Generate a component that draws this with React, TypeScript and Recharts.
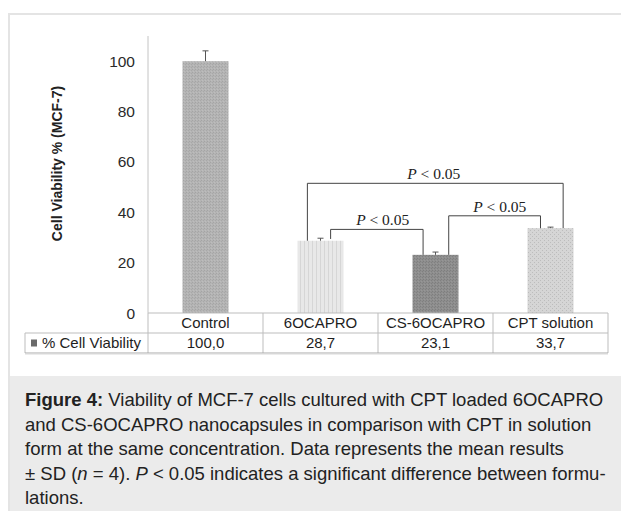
import React from 'react';
import { BarChart, Bar, XAxis, YAxis, ReferenceLine, ReferenceDot } from 'recharts';

// ---------- data ----------
const categories = ['Control', '6OCAPRO', 'CS-6OCAPRO', 'CPT solution'];
const viability = [100.0, 28.7, 23.1, 33.7];
const sdValues = [4.1, 1.0, 1.1, 0.4];
const yTicks = [0, 20, 40, 60, 80, 100];
const seriesName = '% Cell Viability';
const yLabelText = 'Cell Viability % (MCF-7)';

// significance brackets (x in category units, 0 = Control; y in % viability)
const bracketLeftX = [0.886, 1.088, 2.115];
const bracketRightX = [3.11, 1.892, 2.913];
const bracketTopY = [51.5, 33.2, 38.6];
const bracketLeftFoot = [28.7, 29.4, 23.1];
const bracketRightFoot = [33.7, 23.1, 33.7];
const bracketLabelX = [1.985, 1.541, 2.559];
const bracketPLabel = 'P';
const bracketRest = ' < 0.05';

const data = categories.map((name, i) => ({
  name,
  idx: i,
  value: viability[i],
  sd: sdValues[i],
}));

// ---------- layout ----------
const SANS = '"Liberation Sans", Arial, Helvetica, sans-serif';
const SERIF = '"Liberation Serif", "Times New Roman", serif';
const CHART_W = 621;
const CHART_H = 376;
const MARGIN = { top: 36, right: 13, bottom: 23, left: 0 };
const Y_AXIS_W = 148;
const X_AXIS_H = 40;
const PLOT_LEFT = MARGIN.left + Y_AXIS_W;
const PLOT_RIGHT = CHART_W - MARGIN.right;
const PLOT_BOTTOM = CHART_H - MARGIN.bottom - X_AXIS_H;
const BAND = (PLOT_RIGHT - PLOT_LEFT) / categories.length;
const ROW_H = 20;
const TABLE_LEFT = 25;
const LINE = '#bdbdbd';

const patternIds = ['pControl', 'p6O', 'pCS', 'pCPT'];

const Patterns = () => (
  <svg width={0} height={0} style={{ position: 'absolute' }}>
    <defs>
      <pattern id="pControl" width={3} height={3} patternUnits="userSpaceOnUse">
        <rect width={3} height={3} fill="#b4b4b4" />
        <rect x={0} y={0} width={1} height={1} fill="#a4a4a4" />
        <rect x={2} y={1} width={1} height={1} fill="#a8a8a8" />
        <rect x={1} y={2} width={1} height={1} fill="#bdbdbd" />
      </pattern>
      <pattern id="p6O" width={4} height={4} patternUnits="userSpaceOnUse">
        <rect width={4} height={4} fill="#e8e8e8" />
        <rect x={0} y={0} width={1} height={4} fill="#d6d6d6" />
      </pattern>
      <pattern id="pCS" width={3} height={3} patternUnits="userSpaceOnUse">
        <rect width={3} height={3} fill="#8e8e8e" />
        <rect x={0} y={0} width={1} height={1} fill="#7e7e7e" />
        <rect x={2} y={1} width={1} height={1} fill="#808080" />
        <rect x={1} y={2} width={1} height={1} fill="#979797" />
      </pattern>
      <pattern id="pCPT" width={4} height={4} patternUnits="userSpaceOnUse">
        <rect width={4} height={4} fill="#d5d5d5" />
        <rect x={0} y={0} width={1} height={1} fill="#bcbcbc" />
        <rect x={2} y={2} width={1} height={1} fill="#bcbcbc" />
      </pattern>
    </defs>
  </svg>
);

const BarWithError = (props: any) => {
  const { x, y, width, height, index, payload } = props;
  const v = payload.value;
  const pxPerUnit = v ? height / v : 0;
  const topY = y - payload.sd * pxPerUnit;
  const cx = x + width / 2;
  return (
    <g>
      <rect x={x} y={y} width={width} height={height} fill={`url(#${patternIds[index]})`} />
      <line x1={cx} y1={y} x2={cx} y2={topY} stroke="#555" strokeWidth={1} />
      <line x1={cx - 3} y1={topY} x2={cx + 3} y2={topY} stroke="#555" strokeWidth={1} />
    </g>
  );
};

const TableTick = (props: any) => {
  const { x, index } = props;
  const x0 = x - BAND / 2;
  const x1 = x + BAND / 2;
  const y0 = PLOT_BOTTOM;
  const txt = { fontFamily: SANS, fontSize: 15, fill: '#1e1e1e' };
  return (
    <g>
      {index === 0 && (
        <g>
          <line x1={x0} y1={y0} x2={x0} y2={y0 + 2 * ROW_H} stroke={LINE} />
          <line x1={TABLE_LEFT} y1={y0 + ROW_H} x2={x0} y2={y0 + ROW_H} stroke={LINE} />
          <line x1={TABLE_LEFT} y1={y0 + ROW_H} x2={TABLE_LEFT} y2={y0 + 2 * ROW_H} stroke={LINE} />
          <line x1={TABLE_LEFT} y1={y0 + 2 * ROW_H} x2={x0} y2={y0 + 2 * ROW_H} stroke="#a8a8a8" />
          <line x1={TABLE_LEFT} y1={y0 + 2 * ROW_H + 1} x2={x0} y2={y0 + 2 * ROW_H + 1} stroke="#dadada" />
          <rect x={31} y={y0 + ROW_H + 6.5} width={6} height={7} fill="#6a6a6a" />
          <text x={42} y={y0 + ROW_H * 1.5} dy="0.35em" {...txt}>{seriesName}</text>
        </g>
      )}
      <line x1={x1} y1={y0} x2={x1} y2={y0 + 2 * ROW_H} stroke={LINE} />
      <line x1={x0} y1={y0 + ROW_H} x2={x1} y2={y0 + ROW_H} stroke={LINE} />
      <line x1={x0} y1={y0 + 2 * ROW_H} x2={x1} y2={y0 + 2 * ROW_H} stroke="#a8a8a8" />
      <line x1={x0} y1={y0 + 2 * ROW_H + 1} x2={x1} y2={y0 + 2 * ROW_H + 1} stroke="#dadada" />
      <text x={x} y={y0 + ROW_H * 0.5} dy="0.35em" textAnchor="middle" {...txt}>{categories[index]}</text>
      <text x={x} y={y0 + ROW_H * 1.5} dy="0.35em" textAnchor="middle" {...txt}>
        {viability[index].toFixed(1).replace('.', ',')}
      </text>
    </g>
  );
};

const YLabel = (props: any) => {
  const vb = props.viewBox || { y: MARGIN.top, height: PLOT_BOTTOM - MARGIN.top };
  const cx = 57;
  const cy = vb.y + vb.height / 2 - 11;
  return (
    <text
      x={cx}
      y={cy}
      transform={`rotate(-90, ${cx}, ${cy})`}
      textAnchor="middle"
      dominantBaseline="central"
      fontFamily={SANS}
      fontSize={14}
      fontWeight="bold"
      fill="#222"
    >
      {yLabelText}
    </text>
  );
};

const SigLabel = (props: any) => {
  const vb = props.viewBox;
  const cx = vb.x + vb.width / 2;
  const cy = vb.y + vb.height / 2;
  return (
    <text x={cx} y={cy - 4} textAnchor="middle" fontFamily={SERIF} fontSize={15.5} fill="#222">
      <tspan fontStyle="italic">{bracketPLabel}</tspan>
      {bracketRest}
    </text>
  );
};

const brackets = bracketLeftX.map((lx, i) => ({
  lx,
  rx: bracketRightX[i],
  top: bracketTopY[i],
  lf: bracketLeftFoot[i],
  rf: bracketRightFoot[i],
  labelX: bracketLabelX[i],
}));

export default function App() {
  return (
    <div style={{ position: 'absolute', left: 0, top: 0, width: 621, height: 511, background: '#fff', overflow: 'hidden' }}>
      <Patterns />
      <div
        style={{
          position: 'absolute',
          left: 8,
          top: 13,
          width: 640,
          height: 520,
          borderTop: '2px solid #e4e4e4',
          borderLeft: '2px solid #e4e4e4',
          boxSizing: 'border-box',
        }}
      />
      <div style={{ position: 'absolute', left: 0, top: 0 }}>
        <BarChart width={CHART_W} height={CHART_H} data={data} margin={MARGIN} barCategoryGap="30%">
          <XAxis
            xAxisId="cat"
            dataKey="name"
            type="category"
            height={X_AXIS_H}
            tickLine={false}
            tickSize={0}
            tickMargin={0}
            axisLine={{ stroke: LINE }}
            interval={0}
            tick={<TableTick />}
          />
          <XAxis xAxisId="num" dataKey="idx" type="number" domain={[-0.5, 3.5]} allowDataOverflow hide />
          <YAxis
            width={Y_AXIS_W}
            domain={[0, 110]}
            ticks={yTicks}
            interval={0}
            tickLine={false}
            tickSize={0}
            tickMargin={13}
            axisLine={{ stroke: '#c4c4c4' }}
            tick={{ fontSize: 15.5, fill: '#2a2a2a', fontFamily: SANS }}
            label={YLabel}
          />
          <Bar xAxisId="cat" dataKey="value" isAnimationActive={false} shape={<BarWithError />} />
          {brackets.map((b, i) => (
            <ReferenceLine
              key={`l${i}`}
              xAxisId="num"
              segment={[{ x: b.lx, y: b.lf }, { x: b.lx, y: b.top }]}
              stroke="#444"
              strokeWidth={1}
            />
          ))}
          {brackets.map((b, i) => (
            <ReferenceLine
              key={`t${i}`}
              xAxisId="num"
              segment={[{ x: b.lx, y: b.top }, { x: b.rx, y: b.top }]}
              stroke="#444"
              strokeWidth={1}
            />
          ))}
          {brackets.map((b, i) => (
            <ReferenceLine
              key={`r${i}`}
              xAxisId="num"
              segment={[{ x: b.rx, y: b.top }, { x: b.rx, y: b.rf }]}
              stroke="#444"
              strokeWidth={1}
            />
          ))}
          {brackets.map((b, i) => (
            <ReferenceDot
              key={`d${i}`}
              xAxisId="num"
              x={b.labelX}
              y={b.top}
              r={0}
              fill="none"
              stroke="none"
              label={SigLabel}
            />
          ))}
        </BarChart>
      </div>
      <div
        style={{
          position: 'absolute',
          left: 10,
          top: 376,
          width: 611,
          height: 135,
          background: '#ebebeb',
          boxSizing: 'border-box',
          padding: '12px 0 0 15px',
          fontFamily: SANS,
          fontSize: 18.5,
          lineHeight: '24.5px',
          color: '#222',
          whiteSpace: 'nowrap',
        }}
      >
        <div><b>Figure 4:</b> Viability of MCF-7 cells cultured with CPT loaded 6OCAPRO</div>
        <div>and CS-6OCAPRO nanocapsules in comparison with CPT in solution</div>
        <div>form at the same concentration. Data represents the mean results</div>
        <div>± SD (<i>n</i> = 4). <i>P</i> &lt; 0.05 indicates a significant difference between formu-</div>
        <div>lations.</div>
      </div>
    </div>
  );
}
